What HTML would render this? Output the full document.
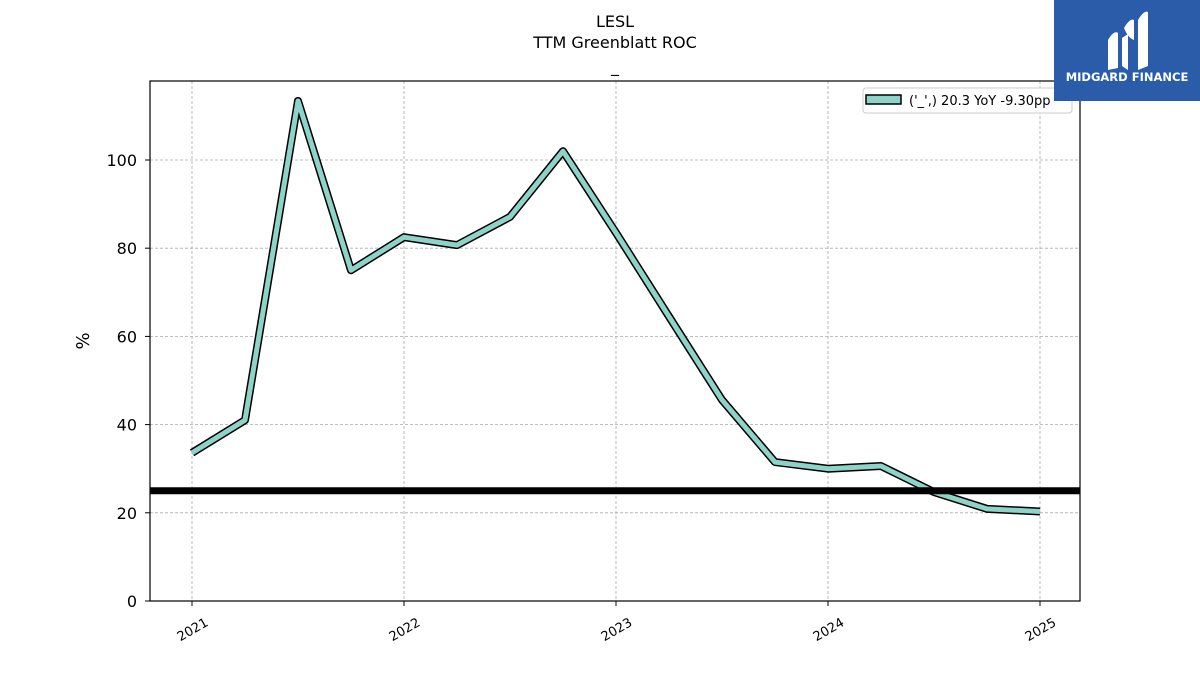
<!DOCTYPE html>
<html><head><meta charset="utf-8"><style>
body{margin:0;background:#fff;width:1200px;height:675px;overflow:hidden;font-family:"Liberation Sans","DejaVu Sans",sans-serif}
</style></head><body>
<svg id="chart" width="1200" height="675" xmlns="http://www.w3.org/2000/svg" font-family="DejaVu Sans, Liberation Sans, sans-serif">
<text x="615" y="27" font-size="16" text-anchor="middle">LESL</text>
<text x="615" y="48" font-size="16" text-anchor="middle">TTM Greenblatt ROC</text>
<text x="615" y="72" font-size="16" text-anchor="middle">_</text>
<g id="grid"></g>
<g id="marks"></g>
<rect x="150" y="81" width="930" height="520" fill="none" stroke="#000" stroke-width="1.2"/>
<g id="axes"></g>
<text transform="translate(89,341) rotate(-90)" font-size="18" text-anchor="middle">%</text>
<g>
<rect x="863" y="88" width="209" height="25" rx="3" fill="#fff" stroke="#ccc"/>
<rect x="866" y="95" width="35" height="9" fill="#8dd3c7" stroke="#000" stroke-width="1.5"/>
<text x="909" y="105" font-size="13">('_',) 20.3 YoY -9.30pp</text>
</g>
<g>
<rect x="1054" y="0" width="146" height="101" fill="#2a5caa"/>
<path d="M1108 40 Q1114 30 1118 33 L1118 68 L1108 70 Z M1122 38 L1128 34 L1128 70 L1122 66 Z M1124 28 Q1130 18 1134 20 L1134 40 Q1128 38 1124 28 Z M1138 20 Q1144 10 1148 12 L1148 66 L1138 70 Z" fill="#fff"/>
<text x="1127" y="81" font-size="11.5" font-weight="bold" fill="#fff" text-anchor="middle">MIDGARD FINANCE</text>
</g>
</svg>
<script>
const years=[2021,2021.25,2021.5,2021.75,2022,2022.25,2022.5,2022.75,2023,2023.25,2023.5,2023.75,2024,2024.25,2024.5,2024.75,2025];
const rocValues=[33.6,41.0,113.4,75.0,82.5,80.7,87.1,102.0,83.5,64.5,45.6,31.5,30.0,30.6,24.7,20.9,20.3];
const thresholdValue=25;
const yTicks=[0,20,40,60,80,100];
const xTicks=[2021,2022,2023,2024,2025];
const NS="http://www.w3.org/2000/svg";
const xS=v=>192+(v-2021)*212;
const yS=v=>601-v*4.41;
function mk(tag,attrs,parent){const e=document.createElementNS(NS,tag);for(const k in attrs)e.setAttribute(k,attrs[k]);parent.appendChild(e);return e;}
const grid=document.getElementById('grid'),marks=document.getElementById('marks'),axes=document.getElementById('axes');
yTicks.forEach(t=>{
 const y=yS(t);
 const g=mk('line',{x1:150,x2:1080,y1:y,y2:y,stroke:'#aaa','stroke-dasharray':'3,2','stroke-width':0.8},grid);
 
 
 mk('line',{x1:145,x2:150,y1:y,y2:y,stroke:'#000'},axes);
 const l=mk('text',{x:137,y:y+6,'font-size':16,'text-anchor':'end'},axes);l.textContent=t;
 
 
});
xTicks.forEach(t=>{
 const x=xS(t);
 const g=mk('line',{x1:x,x2:x,y1:81,y2:601,stroke:'#aaa','stroke-dasharray':'3,2','stroke-width':0.8},grid);
 
 
 mk('line',{x1:x,x2:x,y1:601,y2:606,stroke:'#000'},axes);
 const l=mk('text',{x:x+17,y:625,'font-size':13,'text-anchor':'end',transform:`rotate(-30 ${x+17} 625)`},axes);l.textContent=t;
 
 
});
const d=years.map((v,i)=>(i?'L':'M')+xS(v)+' '+yS(rocValues[i])).join(' ');
const o=mk('path',{d:d,fill:'none',stroke:'#000','stroke-width':8,'stroke-linejoin':'round'},marks);


const ln=mk('path',{d:d,fill:'none',stroke:'#8dd3c7','stroke-width':5,'stroke-linejoin':'round'},marks);


const th=mk('line',{x1:150,x2:1080,y1:yS(thresholdValue),y2:yS(thresholdValue),stroke:'#000','stroke-width':7},marks);


</script>
</body></html>
